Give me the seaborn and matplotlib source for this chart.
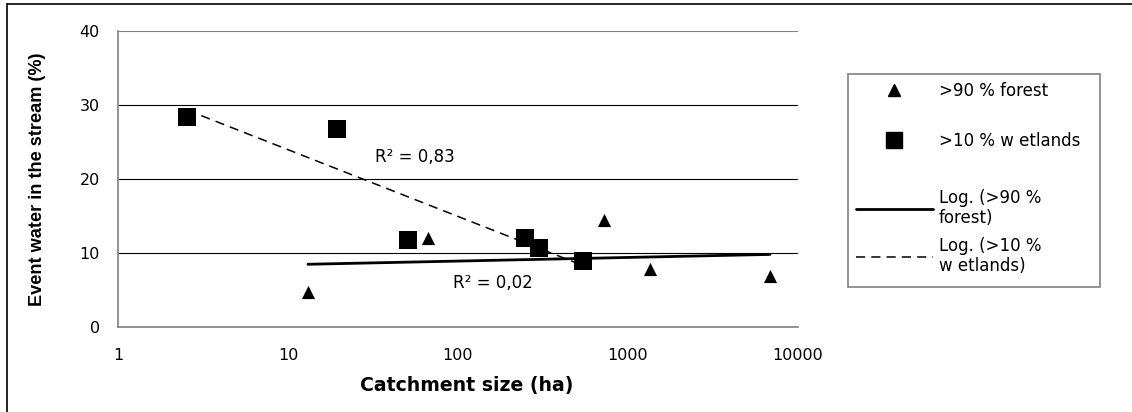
import matplotlib
matplotlib.use("Agg")
import matplotlib.pyplot as plt
from matplotlib.lines import Line2D
from matplotlib.patches import Rectangle
from matplotlib.ticker import NullLocator
import seaborn as sns

# catchment size (ha) and event water share (%)
forest_area = [13.1, 66.6, 722, 1346, 6840]
forest_event = [4.7, 12.0, 14.5, 7.8, 6.9]
wetland_area = [2.55, 19.4, 50.8, 248, 300, 543]
wetland_event = [28.4, 26.8, 11.8, 12.0, 10.7, 8.9]

x_ticks = [1, 10, 100, 1000, 10000]
y_ticks = [0, 10, 20, 30, 40]
marker_labels = [">90 % forest", ">10 % w etlands"]
trend_labels = ["Log. (>90 %\nforest)", "Log. (>10 %\nw etlands)"]
r2_wetland = "R\u00b2 = 0,83"
r2_forest = "R\u00b2 = 0,02"

sns.set_theme(style="white")
plt.rcParams["font.family"] = ["DejaVu Sans"]
plt.rcParams["text.color"] = "black"
plt.rcParams["axes.labelcolor"] = "black"

W, H = 1132, 412
fig = plt.figure(figsize=(W / 100, H / 100), dpi=100)
ax = fig.add_axes([118 / W, 1 - 327 / H, 680 / W, 296 / H])
ax.set_xscale("log")

sns.scatterplot(x=forest_area, y=forest_event, marker="^", s=90, color="black",
                edgecolor="black", linewidth=0, ax=ax, legend=False, zorder=4)
sns.scatterplot(x=wetland_area, y=wetland_event, marker="s", s=170, color="black",
                edgecolor="black", linewidth=0, ax=ax, legend=False, zorder=4)

# log trendlines (y = a*ln(x) + b), like Excel does
sns.regplot(x=forest_area, y=forest_event, logx=True, scatter=False, ci=None,
            truncate=True, ax=ax,
            line_kws=dict(color="black", lw=2.0, solid_capstyle="round", zorder=3))
sns.regplot(x=wetland_area, y=wetland_event, logx=True, scatter=False, ci=None,
            truncate=True, ax=ax,
            line_kws=dict(color="black", lw=1.1, ls=(0, (6, 4)), zorder=3))

ax.set_xlim(1, 10000)
ax.set_ylim(0, 40)
ax.set_xticks(x_ticks)
ax.set_xticklabels([str(t) for t in x_ticks])
ax.xaxis.set_minor_locator(NullLocator())
ax.set_yticks(y_ticks)
ax.set_yticklabels([str(t) for t in y_ticks])
ax.tick_params(axis="both", which="major", direction="out", length=4, width=1,
               color="#808080", labelsize=11.5, labelcolor="black")
ax.tick_params(axis="y", pad=9)
ax.tick_params(axis="x", pad=11)

ax.yaxis.grid(True, color="black", lw=0.8)
ax.xaxis.grid(False)
ax.get_ygridlines()[-1].set_color("#808080")
for side in ["top", "right"]:
    ax.spines[side].set_visible(False)
for side in ["left", "bottom"]:
    ax.spines[side].set_color("#808080")
    ax.spines[side].set_linewidth(1.2)

ax.set_xlabel("Catchment size (ha)", fontsize=13.6, fontweight="bold", color="black")
ax.set_ylabel("Event water in the stream (%)", fontsize=13.1, fontweight="bold",
              color="black", family=["Liberation Sans", "DejaVu Sans"])
ax.xaxis.label.set_va("center")
ax.yaxis.label.set_va("center")
ax.xaxis.set_label_coords(0.513, -0.196)
ax.yaxis.set_label_coords(-0.119, 0.5)

ax.text(32.5, 23.0, r2_wetland, fontsize=12, ha="left", va="center", color="black")
ax.text(93.5, 5.9, r2_forest, fontsize=12, ha="left", va="center", color="black")

# legend: markers and trendlines in one grey box
marker_handles = [
    Line2D([], [], ls="none", marker="^", ms=9, color="black"),
    Line2D([], [], ls="none", marker="s", ms=11.5, color="black"),
]
trend_handles = [
    Line2D([], [], color="black", lw=2.0),
    Line2D([], [], color="black", lw=1.1, ls=(0, (6, 4))),
]
leg_kw = dict(loc="center left", bbox_transform=fig.transFigure, frameon=False,
              borderaxespad=0, borderpad=0, fontsize=12, handlelength=4.6,
              handletextpad=0.36, labelcolor="black")
leg1 = ax.legend(marker_handles, marker_labels, bbox_to_anchor=(856 / W, 1 - 116 / H),
                 labelspacing=1.95, **leg_kw)
ax.add_artist(leg1)
ax.legend(trend_handles, trend_labels, bbox_to_anchor=(856 / W, 1 - 232 / H),
          labelspacing=0.55, **leg_kw)
fig.add_artist(Rectangle((848 / W, 1 - 287 / H), 252 / W, 213 / H,
                         transform=fig.transFigure, fill=False,
                         edgecolor="#808080", lw=1.2))

# outer chart frame (top and left edges visible in the crop)
fig.add_artist(Line2D([7 / W, 7 / W], [0, 1 - 4 / H], transform=fig.transFigure,
                      color="black", lw=1.2))
fig.add_artist(Line2D([7 / W, 1], [1 - 4 / H, 1 - 4 / H], transform=fig.transFigure,
                      color="black", lw=1.2))

fig.savefig("out.png", dpi=100)
plt.close(fig)
